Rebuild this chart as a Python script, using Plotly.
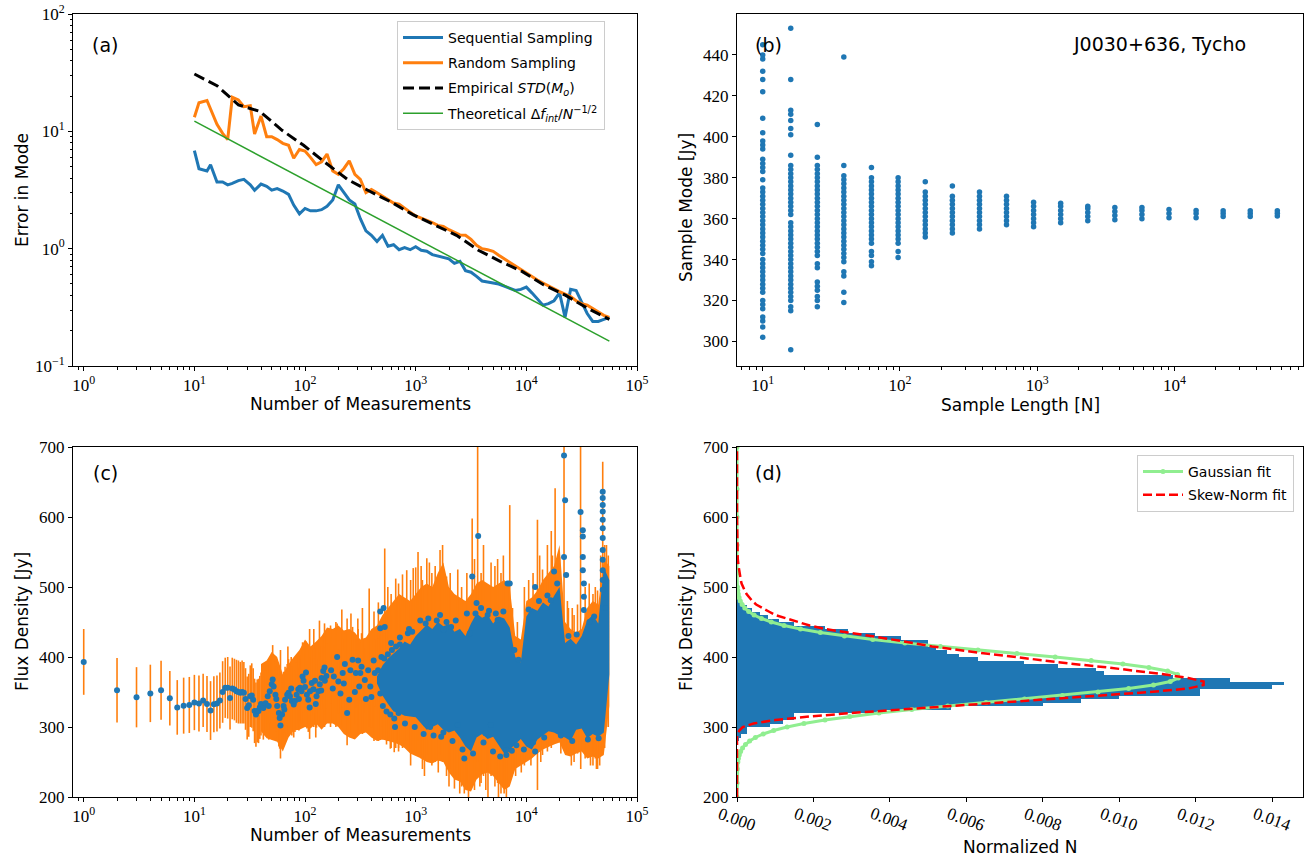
import plotly.graph_objects as go

BLUE = "#1f77b4"
ORANGE = "#ff7f0e"
GREEN = "#2ca02c"

# ---------------- (a) error in mode vs number of measurements ----------------
meas_n = [10, 11, 13, 14, 16, 18, 20, 22, 25, 28, 32, 35, 40, 45, 50, 56, 63, 71, 79, 89, 100,
          112, 126, 141, 158, 178, 200, 224, 251, 282, 316, 355, 398, 447, 501, 562, 631, 708, 794, 891, 1000,
          1122, 1259, 1413, 1585, 1778, 1995, 2239, 2512, 2818, 3162, 3548, 3981, 4467, 5012, 5623, 6310,
          7079, 7943, 8913, 10000,
          11220, 12589, 14125, 15849, 17783, 19953, 22387, 25119, 28184, 31623, 35481, 39811, 44668,
          50119, 56234]
seq_err = [6.86, 4.8, 4.6, 5.2, 3.7, 3.7, 3.5, 3.6, 3.8, 3.9, 3.5, 3.15, 3.55, 3.4, 3.15, 3.25, 3.1,
           2.9, 2.35, 1.98, 2.2,
           2.1, 2.1, 2.15, 2.3, 2.6, 3.5, 3.0, 2.6, 2.4, 1.8, 1.42, 1.3, 1.15, 1.3, 1.05, 1.08, 0.98,
           1.02, 0.98, 1.04,
           0.97, 0.95, 0.89, 0.87, 0.85, 0.82, 0.75, 0.78, 0.65, 0.63, 0.58, 0.53, 0.52, 0.51, 0.5,
           0.48, 0.46, 0.44, 0.45, 0.47,
           0.42, 0.37, 0.33, 0.34, 0.36, 0.42, 0.26, 0.45, 0.44, 0.35, 0.28, 0.24, 0.24, 0.25, 0.26]
rand_err = [13.2, 17.5, 18.3, 15.5, 11.5, 9.6, 8.5, 19.5, 18.5, 16.2, 16.5, 9.5, 13.5, 9.0, 9.0,
            8.5, 7.9, 7.6, 5.9, 7.0, 6.8,
            6.0, 5.2, 5.5, 6.4, 4.6, 4.3, 4.8, 5.6, 4.3, 3.9, 3.0, 3.2, 3.0, 2.8, 2.6, 2.45, 2.4,
            2.2, 2.05, 1.9,
            1.82, 1.75, 1.67, 1.58, 1.55, 1.45, 1.38, 1.31, 1.30, 1.2, 1.07, 1.0, 0.98, 0.95, 0.88,
            0.82, 0.76, 0.71, 0.66, 0.62,
            0.58, 0.54, 0.51, 0.48, 0.45, 0.43, 0.41, 0.39, 0.36, 0.34, 0.33, 0.31, 0.29, 0.27, 0.26]
sample_lengths = [10, 16, 25, 39, 62, 97, 153, 241, 380, 598, 942, 1484, 2338, 3683, 5802, 9140,
                  14400, 22680, 35730, 56290]
empirical_std = [30.8, 24.5, 16.8, 14.8, 10.2, 7.6, 5.4, 3.9, 3.1, 2.5, 1.95, 1.6, 1.3, 0.97, 0.78,
                 0.64, 0.49, 0.40, 0.31, 0.25]
theoretical = [12.2, 9.65, 7.72, 6.18, 4.90, 3.92, 3.12, 2.49, 1.98, 1.58, 1.26, 1.00, 0.798, 0.636,
               0.507, 0.404, 0.322, 0.256, 0.204, 0.163]

# ---------------- (b) sample mode for each sample length ----------------
sample_modes = [
    [302, 307, 310, 312, 316, 318, 320, 324, 326, 328, 330, 332, 334, 336, 338, 340, 343, 345, 347,
     349, 351, 353, 355, 357, 359, 361, 363, 365, 367, 369, 371, 373, 375, 379, 383, 385, 387, 389,
     394, 396, 398, 402, 409, 422, 428, 432, 438, 440, 445],
    [296, 315, 317, 320, 322, 324, 326, 328, 330, 332, 334, 336, 338, 340, 342, 344, 346, 348, 350,
     352, 354, 356, 358, 362, 364, 366, 368, 370, 372, 374, 376, 378, 380, 382, 384, 386, 391, 401,
     404, 408, 411, 413, 428, 453],
    [317, 320, 322, 325, 327, 329, 336, 338, 342, 344, 346, 348, 350, 352, 354, 356, 358, 360, 362,
     364, 366, 368, 370, 372, 374, 376, 378, 380, 382, 384, 386, 390, 406],
    [319, 324, 332, 334, 339, 341, 343, 345, 347, 349, 351, 353, 355, 357, 359, 361, 363, 365, 367,
     369, 371, 373, 375, 377, 379, 381, 386, 439],
    [337, 339, 342, 344, 348, 350, 352, 354, 356, 358, 360, 362, 364, 366, 368, 370, 372, 374, 376,
     378, 380, 385],
    [341, 344, 348, 350, 352, 354, 356, 358, 360, 362, 364, 366, 368, 370, 372, 374, 376, 378, 380],
    [351, 353, 355, 357, 359, 361, 363, 365, 367, 369, 371, 373, 378],
    [353, 355, 357, 359, 361, 363, 365, 367, 369, 371, 376],
    [355, 357, 359, 361, 363, 365, 367, 369, 371, 373],
    [357, 359, 361, 363, 365, 367, 369, 371],
    [356, 358, 360, 362, 364, 366, 368],
    [358, 360, 362, 364, 366, 367.5],
    [359, 361, 363, 365, 366],
    [359.5, 361.5, 363.5, 365.5],
    [360, 362, 364, 365.5],
    [360.5, 362.5, 364.5],
    [360.5, 362.5, 364],
    [361, 362.5, 363.8],
    [361, 362.5, 363.8],
    [361.3, 362.6, 363.8],
]

# ---------------- (c) flux density vs number of measurements ----------------
early_n = list(range(1, 41))
early_flux = [393, 352.5, 342.5, 348, 352.5, 341, 328, 330.5, 331.5, 335, 333.5, 338, 333, 323.5,
              332.5, 333.5, 338, 350, 356, 356, 341.5, 355, 353.5, 351, 350, 349, 350, 349, 340, 327,
              331, 344, 345, 339, 323, 317.7, 323, 323, 328, 333]
early_err = [47, 46, 43, 41, 42, 39, 39, 40, 40, 39.5, 40, 38, 40, 42, 40, 40, 40, 44, 43, 44, 45,
             44, 44, 45, 45, 44, 45, 44, 44, 45, 45, 44, 46, 45, 46, 46, 45, 46, 45, 45]

mid_n = [42, 44, 46, 47, 48, 50, 51, 52, 54, 55, 56, 58, 59, 60, 62, 64, 65, 66, 69, 71,
         73, 75, 76, 79, 81, 84, 87, 88, 90, 93, 95, 97, 100, 102, 104, 107, 110, 111, 115, 119,
         123, 125, 127, 132, 136, 140, 141, 146, 150, 151, 156, 172, 178, 182, 195, 200, 209, 219, 224, 229,
         240, 251, 257, 269, 282, 288, 302, 309, 316, 324, 347, 355, 372, 389, 398, 417, 427, 457, 479, 490,
         505, 520, 545, 560, 590, 610, 640, 665, 700, 720]
mid_flux = [327, 334, 344, 330, 351, 361, 368, 358, 346, 340, 330, 320, 313, 302, 318, 330, 325, 339, 346, 349,
            344, 355, 337, 332, 337, 346, 354, 340, 356, 351, 372, 366, 357, 378, 346, 339, 328, 351, 363, 354,
            366, 333, 344, 351, 361, 352, 370, 380, 385, 366, 373, 381, 355, 372, 400, 365, 348, 377, 362, 390,
            320, 339, 381, 396, 350, 377, 395, 358, 377, 386, 367, 340, 381, 358, 343, 395, 377, 381, 348, 400,
            330, 398, 322, 404, 318, 410, 312, 415, 320, 418]
mid_err = [45, 47, 44, 48, 46, 45, 49, 44, 47, 46, 45, 48, 44, 47, 46, 49, 45, 47, 44, 48,
           46, 45, 49, 47, 44, 46, 48, 45, 47, 46, 49, 45, 47, 44, 48, 46, 45, 49, 47, 44,
           46, 48, 45, 47, 46, 49, 45, 47, 44, 48, 46, 47, 49, 45, 48, 46, 45, 49, 47, 44,
           46, 48, 45, 47, 46, 49, 45, 47, 44, 48, 46, 45, 49, 47, 44, 46, 48, 45, 47, 46,
           48, 50, 47, 52, 49, 51, 48, 53, 50, 52]

band_n = [40, 45, 50, 56, 63, 71, 79, 89, 100,
          112, 126, 141, 158, 178, 200, 224, 251, 282, 316, 355, 398, 447, 501, 562, 631, 708, 794, 891, 1000,
          1122, 1259, 1413, 1585, 1778, 1995, 2239, 2512, 2818, 3162, 3548, 3981, 4467, 5012, 5623, 6310,
          7079, 7943, 8913, 10000,
          11220, 12589, 14125, 15849, 17783, 19953, 22387, 25119, 28184, 31623, 35481, 39811, 44668, 50119, 56234]
err_band_lo = [294, 284, 282, 279, 265, 285, 295, 296, 300,
               298, 305, 296, 305, 305, 300, 290, 285, 282, 290, 292, 285, 280, 282, 280, 278, 275, 270, 262, 258,
               255, 250, 248, 252, 250, 235, 225, 222, 210, 208, 225, 232, 235, 230, 220, 210, 215, 240, 245, 250,
               255, 262, 268, 272, 275, 278, 260, 258, 262, 265, 255, 258, 255, 260, 330]
err_band_hi = [390, 395, 407, 400, 375, 390, 400, 410, 425,
               415, 422, 430, 442, 440, 445, 438, 440, 435, 425, 428, 440, 445, 460, 470, 480, 490, 485, 480, 490,
               500, 505, 500, 520, 535, 500, 490, 485, 480, 490, 505, 510, 505, 500, 505, 510, 500, 430, 425, 480,
               485, 495, 510, 520, 530, 560, 450, 440, 435, 440, 470, 480, 475, 540, 530]

# densest stretch of the sequence: extent of the plotted points
dense_n = band_n[21:]
dense_lo = [362, 345, 333, 322, 320, 316, 315, 314,
            305, 296, 300, 304, 296, 292, 295, 285, 272, 265, 285, 290, 283, 286, 275, 262, 268, 275, 283, 272,
            268, 282, 288, 294, 292, 288, 285, 280, 296, 298, 284, 290, 286, 292, 375]
dense_hi = [372, 388, 398, 405, 412, 422, 418, 430,
            438, 446, 440, 450, 444, 447, 436, 440, 430, 448, 462, 456, 460, 448, 458, 455, 442, 400, 392, 458,
            470, 466, 478, 472, 487, 500, 420, 426, 418, 430, 452, 460, 448, 528, 510]

# single long error bars standing out of the envelope
spike_n = [60, 70, 110, 120, 135, 150, 170, 190, 215, 240, 260, 300, 330, 380, 420, 460, 525, 560, 600,
           660, 700, 760, 830, 900, 900, 950, 1000, 1050, 1120, 1150, 1200, 1260, 1330, 1400, 1500, 1600,
           1660, 1750, 1900, 2000, 2050, 2240, 2400, 2500, 2600, 2750, 2900, 3000, 3240, 3400, 3630, 3800,
           3900, 4100, 4300, 4500, 4800, 5200, 5500, 5600, 5900, 6200, 6300, 6600, 7080, 7500, 8000, 8300,
           9000, 9600, 10500, 11000, 11500, 12600, 13200, 13500, 14000, 15500, 16800, 17200, 18200, 19950,
           20500, 21900, 23500, 24000, 25500, 26000, 27000, 29000, 30900, 31000, 34000, 37000, 38000,
           40000, 42000, 43000, 44000, 46000, 47000, 49000, 51000, 53000, 55000]
spike_lo = [280, 290, 310, 300, 300, 300, 300, 300, 300, 290, 290, 290, 290, 300, 280, 280, 290, 280, 270,
            270, 265, 270, 280, 265, 245, 280, 260, 280, 255, 240, 230, 260, 250, 245, 250, 235,
            260, 250, 230, 215, 240, 212, 230, 205, 215, 205, 220, 200, 300, 210, 250, 215,
            220, 230, 210, 200, 230, 215, 220, 200, 205, 215, 205, 198, 300, 240, 230, 250,
            235, 245, 255, 245, 260, 210, 265, 250, 260, 265, 270, 275, 300, 300,
            262, 280, 265, 270, 245, 260, 250, 262, 300, 240, 255, 258, 245,
            245, 255, 240, 240, 245, 260, 300, 270, 300, 300]
spike_hi = [410, 415, 440, 440, 452, 448, 445, 450, 468, 455, 462, 455, 470, 498, 465, 478, 555, 500, 490,
            512, 505, 518, 524, 510, 400, 527, 528, 550, 530, 510, 400, 541, 535, 520, 530, 400,
            553, 560, 515, 400, 520, 450, 525, 400, 500, 460, 520, 400, 598, 540, 720, 400,
            520, 560, 400, 450, 535, 530, 540, 400, 520, 545, 400, 470, 617, 470, 400, 450,
            400, 500, 510, 400, 520, 596, 545, 400, 525, 560, 580, 545, 641, 543,
            400, 720, 480, 470, 400, 470, 460, 475, 720, 400, 500, 505, 400,
            490, 500, 400, 495, 400, 545, 679, 560, 560, 545]

outlier_n = [478, 478, 513, 525, 850, 930, 1230, 1230, 1350, 1660,
             1780, 1780, 2090, 2400, 2750, 3090, 3240, 3470, 3550, 3670,
             4270, 4470, 4790, 5500, 6600, 6600, 6760, 7080, 8130, 8500,
             12000, 12000, 16600, 17800, 21900, 21900, 22400, 22900, 30900, 32400,
             32400, 32400, 32400, 33100, 33100, 33100, 37150,
             49000, 49000, 49000, 49000, 49000, 49000, 49000, 49000, 49000, 49000, 49000, 49000,
             600, 650, 720, 800, 870, 980, 1100, 1180, 1300, 1450, 1550, 1700, 1900, 2150, 2300,
             2650, 2900, 3300, 3900, 4100, 4600, 5000, 5300, 5800, 6200, 7400, 7800, 9500, 10500,
             11500, 13000, 14500, 15500, 19000, 20500, 24000, 26000, 28500, 36000, 41000, 45000, 52000]
outlier_flux = [465, 441, 470, 443, 434, 436, 448, 305, 300, 460,
                439, 292, 443, 303, 255, 434, 515, 462, 477, 573,
                291, 460, 303, 453, 260, 267, 505, 505, 274, 396,
                500, 265, 481, 522, 688, 543, 624, 517, 607, 581,
                572, 543, 524, 505, 486, 467, 450,
                636, 627, 617, 608, 596, 584, 570, 553, 539, 524, 510, 496,
                420, 300, 428, 305, 440, 300, 452, 290, 455, 288, 452, 286, 450, 280, 452,
                268, 462, 262, 470, 278, 466, 265, 462, 258, 465, 266, 410, 268, 468,
                278, 480, 285, 488, 505, 288, 430, 280, 432, 282, 458, 284, 470]

# ---------------- (d) flux density distribution ----------------
hist_flux = [282.5, 287.5, 292.5, 297.5, 302.5, 307.5, 312.5, 317.5, 322.5, 327.5,
             332.5, 337.5, 342.5, 347.5, 352.5, 357.5, 362.5, 367.5, 372.5, 377.5,
             382.5, 387.5, 392.5, 397.5, 402.5, 407.5, 412.5, 417.5, 422.5, 427.5,
             432.5, 437.5, 442.5, 447.5, 452.5, 457.5, 462.5, 467.5, 472.5, 477.5,
             482.5, 487.5]
hist_density = [0.00005, 0.0001, 0.00026, 0.00026, 0.00087, 0.0012, 0.0015, 0.0015, 0.0037, 0.0056,
                0.0080, 0.0090, 0.0100, 0.0121, 0.0121, 0.0140, 0.0143, 0.0129, 0.0114, 0.0096,
                0.0094, 0.0084, 0.0075, 0.0063, 0.0058, 0.0055, 0.0052, 0.0050, 0.0050, 0.0043,
                0.0036, 0.0029, 0.0023, 0.0015, 0.0011, 0.0008, 0.0006, 0.0004, 0.00025, 0.00012,
                0.00006, 0.00003]

gauss_flux = [200, 220, 240,
              250, 255, 260, 265, 270, 275, 280, 285, 290, 295, 300, 305, 310, 315, 320, 325, 330,
              335, 340, 345, 350, 355, 360, 365, 370, 375, 380, 385, 390, 395, 400, 405, 410, 415,
              420, 425, 430, 435, 440, 445, 450, 455, 460, 465, 470, 475, 480, 485, 490, 495, 500,
              520, 560, 600, 640, 700]
gauss_fit = [0.0, 0.000001, 0.000008,
             0.0000223, 0.0000368, 0.0000595, 0.0000944, 0.000146, 0.000222, 0.000330, 0.000481,
             0.000686, 0.000958, 0.00131, 0.00175, 0.00230, 0.00295, 0.00371, 0.00457, 0.00551,
             0.00651, 0.00752, 0.00851, 0.00944, 0.01024, 0.01089, 0.01133, 0.01154, 0.01152,
             0.01126, 0.01077, 0.01009, 0.00926, 0.00832, 0.00732, 0.00630, 0.00532, 0.00439,
             0.00355, 0.00281, 0.00218, 0.00166, 0.00123, 0.000898, 0.000640, 0.000447, 0.000306,
             0.000204, 0.000134, 0.0000861, 0.0000542, 0.0000333, 0.0000201, 0.0000119,
             0.0, 0.0, 0.0, 0.0, 0.0]

skew_flux = [200, 240, 280,
             285, 290, 295, 300, 305, 310, 315, 320, 325, 330, 335, 340, 345, 350, 355, 360, 365,
             370, 375, 380, 385, 390, 395, 400, 405, 410, 415, 420, 425, 430, 435, 440, 445, 450,
             455, 460, 465, 470, 475, 480, 485, 490, 495, 500, 505, 510, 515, 520,
             530, 540, 560, 600, 650, 700]
skew_fit = [0.0, 0.0, 0.0,
            0.0, 0.00002, 0.00006, 0.00015, 0.00043, 0.0010, 0.0019, 0.0030, 0.0042, 0.0056, 0.0069,
            0.0082, 0.0097, 0.0108, 0.0118, 0.0122, 0.0122, 0.0118, 0.0112, 0.0105, 0.0097, 0.0088,
            0.0080, 0.0072, 0.0065, 0.0058, 0.0051, 0.0046, 0.0041, 0.0035, 0.0029, 0.0023, 0.0019,
            0.0016, 0.0013, 0.0010, 0.00083, 0.00065, 0.0005, 0.0004, 0.00032, 0.00025, 0.0002,
            0.00015, 0.00012, 0.0001, 0.00008, 0.00006,
            0.00004, 0.00002, 0.00001, 0.0, 0.0, 0.0]
norm_ticks = [0.000, 0.002, 0.004, 0.006, 0.008, 0.010, 0.012, 0.014]

# ---------------- figure ----------------
W, H = 1307, 858


def fx(px):
    return px / W


def fy(py):
    return 1 - py / H


fig = go.Figure()

# (a)
fig.add_trace(go.Scatter(x=meas_n, y=seq_err, mode="lines", name="Sequential Sampling",
                         legendgroup="a1", line=dict(color=BLUE, width=3), xaxis="x", yaxis="y"))
fig.add_trace(go.Scatter(x=meas_n, y=rand_err, mode="lines", name="Random Sampling",
                         legendgroup="a2", line=dict(color=ORANGE, width=3), xaxis="x", yaxis="y"))
fig.add_trace(go.Scatter(x=sample_lengths, y=empirical_std, mode="lines",
                         name="Empirical <i>STD</i>(<i>M<sub>o</sub></i>)", legendgroup="a3",
                         line=dict(color="black", width=3, dash="11px,5px"), xaxis="x", yaxis="y"))
fig.add_trace(go.Scatter(x=sample_lengths, y=theoretical, mode="lines",
                         name="Theoretical Δ<i>f<sub>int</sub></i>/<i>N</i><sup>−1/2</sup>",
                         legendgroup="a4", line=dict(color=GREEN, width=1.5), xaxis="x", yaxis="y"))

# (b)
b_x, b_y = [], []
for n, modes in zip(sample_lengths, sample_modes):
    b_x += [n] * len(modes)
    b_y += modes
fig.add_trace(go.Scatter(x=b_x, y=b_y, mode="markers", showlegend=False,
                         marker=dict(color=BLUE, size=5.5), xaxis="x2", yaxis="y2"))

# (c) error envelope of the dense part, then single error bars
fig.add_trace(go.Scatter(x=band_n + band_n[::-1], y=err_band_hi + err_band_lo[::-1],
                         fill="toself", fillcolor=ORANGE, mode="lines", line=dict(width=0),
                         showlegend=False, xaxis="x3", yaxis="y3"))
sx, sy = [], []
for n, lo, hi in zip(spike_n, spike_lo, spike_hi):
    sx += [n, n, None]
    sy += [lo, hi, None]
fig.add_trace(go.Scatter(x=sx, y=sy, mode="lines", line=dict(color=ORANGE, width=1.6),
                         showlegend=False, xaxis="x3", yaxis="y3"))
fig.add_trace(go.Scatter(x=early_n + mid_n, y=early_flux + mid_flux, mode="markers",
                         marker=dict(color=BLUE, size=6),
                         error_y=dict(type="data", array=early_err + mid_err, color=ORANGE,
                                      thickness=1.6, width=0),
                         showlegend=False, xaxis="x3", yaxis="y3"))
fig.add_trace(go.Scatter(x=dense_n + dense_n[::-1], y=dense_hi + dense_lo[::-1],
                         fill="toself", fillcolor=BLUE, mode="lines", line=dict(width=0),
                         showlegend=False, xaxis="x3", yaxis="y3"))
fig.add_trace(go.Scatter(x=outlier_n, y=outlier_flux, mode="markers",
                         marker=dict(color=BLUE, size=6), showlegend=False, xaxis="x3", yaxis="y3"))

# (d)
fig.add_trace(go.Bar(y=hist_flux, x=hist_density, orientation="h", width=5,
                     marker=dict(color=BLUE, line=dict(width=0)), showlegend=False,
                     xaxis="x4", yaxis="y4"))
fig.add_trace(go.Scatter(x=gauss_fit, y=gauss_flux, mode="lines+markers", name="Gaussian fit",
                         legendgroup="d1", line=dict(color="lightgreen", width=3),
                         marker=dict(color="lightgreen", size=5),
                         legend="legend2", xaxis="x4", yaxis="y4"))
fig.add_trace(go.Scatter(x=skew_fit, y=skew_flux, mode="lines", name="Skew-Norm fit",
                         legendgroup="d2", line=dict(color="red", width=2.5, dash="9px,4px"),
                         legend="legend2", xaxis="x4", yaxis="y4"))

TICKFONT = dict(family="Liberation Serif, DejaVu Serif, Times New Roman, serif", size=17,
                color="black")


def axis(**kw):
    base = dict(showline=True, linecolor="black", linewidth=1, mirror=True,
                ticks="outside", ticklen=4, tickwidth=1, tickcolor="black", automargin=False,
                showgrid=False, zeroline=False, tickfont=TICKFONT)
    base.update(kw)
    return base


def pow10(k):
    return "10<sup>%s</sup>" % (str(k).replace("-", "−"))


def minor_log(kmin, kmax, extra=()):
    vals = [m * 10 ** k for k in range(kmin, kmax) for m in range(2, 10)]
    return dict(tickvals=list(extra) + vals, ticks="outside", ticklen=2.5, tickcolor="black",
                showgrid=False)


meas_ticks = [1, 10, 100, 1000, 10000, 100000]
meas_text = [pow10(k) for k in range(0, 6)]

LEGENDFONT = dict(family="DejaVu Sans", size=14, color="black")

fig.update_layout(
    width=W, height=H, margin=dict(l=0, r=0, t=0, b=0, autoexpand=False),
    paper_bgcolor="white", plot_bgcolor="white", bargap=0, showlegend=True,
    xaxis=axis(type="log", domain=[fx(73), fx(637)], anchor="y", range=[-0.0969, 5],
               tickvals=meas_ticks, ticktext=meas_text, minor=minor_log(0, 5, (0.9,))),
    yaxis=axis(type="log", domain=[fy(366), fy(14)], anchor="x", range=[-1, 2],
               tickvals=[0.1, 1, 10, 100], ticktext=[pow10(k) for k in (-1, 0, 1, 2)],
               minor=minor_log(-1, 2)),
    xaxis2=axis(type="log", domain=[fx(737), fx(1303)], anchor="y2", range=[0.8125, 4.9375],
                tickvals=[10, 100, 1000, 10000], ticktext=[pow10(k) for k in range(1, 5)],
                minor=minor_log(1, 5, (7, 8, 9))),
    yaxis2=axis(domain=[fy(366), fy(14)], anchor="x2", range=[288, 460],
                tickvals=[300, 320, 340, 360, 380, 400, 420, 440]),
    xaxis3=axis(type="log", domain=[fx(73), fx(637)], anchor="y3", range=[-0.0969, 5],
                tickvals=meas_ticks, ticktext=meas_text, minor=minor_log(0, 5, (0.9,))),
    yaxis3=axis(domain=[fy(797), fy(447)], anchor="x3", range=[200, 700],
                tickvals=[200, 300, 400, 500, 600, 700]),
    xaxis4=axis(domain=[fx(737), fx(1303)], anchor="y4", range=[0, 0.0148],
                tickvals=norm_ticks, showticklabels=False),
    yaxis4=axis(domain=[fy(797), fy(447)], anchor="x4", range=[200, 700],
                tickvals=[200, 300, 400, 500, 600, 700]),
    legend=dict(x=fx(397), y=fy(21), xanchor="left", yanchor="top", tracegroupgap=4,
                itemwidth=40, bgcolor="rgba(255,255,255,0.9)", bordercolor="#cccccc",
                borderwidth=1, font=LEGENDFONT),
    legend2=dict(x=fx(1137), y=fy(455), xanchor="left", yanchor="top", tracegroupgap=2,
                 itemwidth=40, bgcolor="rgba(255,255,255,0.9)", bordercolor="#cccccc",
                 borderwidth=1, font=LEGENDFONT),
)

# rotated labels of the normalized-count axis, turned about their centres
for v in norm_ticks:
    fig.add_annotation(text="%.3f" % v, x=v, y=fy(819), xref="x4", yref="paper",
                       showarrow=False, textangle=20, xanchor="center", yanchor="middle",
                       font=TICKFONT)

TITLEFONT = dict(family="DejaVu Sans", size=17, color="black")
LABELFONT = dict(family="DejaVu Sans", size=19, color="black")


def note(text, x, y, font, angle=0, xanchor="center"):
    fig.add_annotation(text=text, x=fx(x), y=fy(y), xref="paper", yref="paper",
                       showarrow=False, font=font, textangle=angle,
                       xanchor=xanchor, yanchor="middle")


note("Number of Measurements", 360, 404, TITLEFONT)
note("Error in Mode", 22, 190, TITLEFONT, angle=-90)
note("Sample Length [N]", 1020, 405, TITLEFONT)
note("Sample Mode [Jy]", 686, 208, TITLEFONT, angle=-90)
note("Number of Measurements", 360, 835, TITLEFONT)
note("Flux Density [Jy]", 22, 622, TITLEFONT, angle=-90)
note("Normalized N", 1020, 847, TITLEFONT)
note("Flux Density [Jy]", 686, 622, TITLEFONT, angle=-90)
note("(a)", 105, 45, LABELFONT)
note("(b)", 768, 45, LABELFONT)
note("(c)", 105, 473, LABELFONT)
note("(d)", 768, 473, LABELFONT)
note("J0030+636, Tycho", 1248, 44, LABELFONT, xanchor="right")

fig.write_html("out.html")
